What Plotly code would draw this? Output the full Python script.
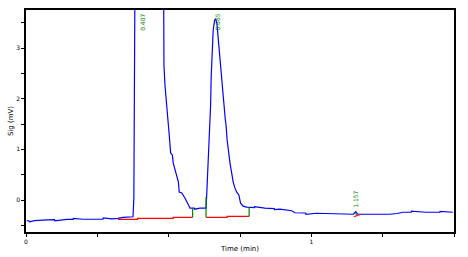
import plotly.graph_objects as go

# Signal trace (time in min, signal in mV)
sig_t = [0.002, 0.010, 0.012, 0.030, 0.060, 0.100, 0.101, 0.143, 0.165, 0.166, 0.200, 0.259,
         0.270, 0.271, 0.300, 0.322, 0.340, 0.375,
         0.378, 0.382, 0.400, 0.481, 0.481, 0.4835, 0.487, 0.4905, 0.494, 0.4975,
         0.502, 0.507, 0.513, 0.516, 0.520, 0.526, 0.530, 0.534, 0.537, 0.546, 0.557,
         0.569, 0.575, 0.590, 0.591, 0.610, 0.631, 0.633, 0.637, 0.642, 0.645, 0.647, 0.649, 0.653,
         0.656, 0.661, 0.665, 0.669, 0.672, 0.675, 0.680, 0.683, 0.688, 0.694, 0.698,
         0.701, 0.705, 0.715, 0.721, 0.726, 0.732, 0.738, 0.746, 0.752, 0.761, 0.773,
         0.800, 0.801, 0.837, 0.870, 0.871, 0.890, 0.931, 0.943, 0.980, 0.981, 1.019, 1.080,
         1.147, 1.156, 1.163, 1.220, 1.275, 1.300, 1.321, 1.350, 1.351, 1.400, 1.450, 1.451, 1.496]
sig_v = [-0.408, -0.408, -0.430, -0.405, -0.394, -0.388, -0.410, -0.381, -0.381, -0.360, -0.378,
         -0.375, -0.375, -0.350, -0.370, -0.361, -0.341, -0.329,
         0.034, 4.500, 6.000, 6.000, 3.100, 2.660, 2.270, 2.070, 1.830, 1.620,
         1.280, 0.930, 0.890, 0.730, 0.650, 0.550, 0.430, 0.360, 0.160, 0.140, 0.040,
         -0.100, -0.160, -0.160, -0.180, -0.160, -0.160, 0.060, 0.590, 1.180, 1.380, 1.870, 2.430, 2.960,
         3.350, 3.550, 3.570, 3.490, 3.290, 3.100, 2.700, 2.470, 2.230, 1.830, 1.620,
         1.480, 1.180, 0.730, 0.490, 0.360, 0.240, 0.160, 0.100, -0.060, -0.120, -0.140,
         -0.150, -0.130, -0.160, -0.170, -0.190, -0.180, -0.210, -0.250, -0.255, -0.280, -0.260, -0.270,
         -0.280, -0.230, -0.280, -0.280, -0.280, -0.265, -0.240, -0.240, -0.220, -0.240, -0.240, -0.225, -0.240]

# Baselines (red)
base1_t = [0.322, 0.391, 0.391, 0.516, 0.516, 0.584]
base1_v = [-0.380, -0.380, -0.360, -0.360, -0.340, -0.340]
base2_t = [0.631, 0.705, 0.705, 0.782]
base2_v = [-0.340, -0.340, -0.320, -0.320]
base3_t = [1.149, 1.163, 1.174]
base3_v = [-0.330, -0.300, -0.280]

# Peak drop lines (green)
drop_t = [0.584, 0.584, None, 0.631, 0.631, None, 0.782, 0.782, None, 1.157, 1.157]
drop_v = [-0.340, -0.160, None, -0.340, 0.060, None, -0.320, -0.140, None, -0.300, -0.240]

# Peak labels
peak_t = [0.406, 0.668, 1.157]
peak_lbl = ["0.407", "0.665", "1.157"]
peak_y = [3.72, 3.72, -0.20]
peak_anchor = ["top", "top", "bottom"]

x_ticks = [0, 1]
y_ticks = [0, 1, 2, 3]

fig = go.Figure()
fig.add_trace(go.Scatter(x=sig_t, y=sig_v, mode="lines",
                         line=dict(color="#0000ff", width=1.2), hoverinfo="skip"))
for bt, bv in [(base1_t, base1_v), (base2_t, base2_v), (base3_t, base3_v)]:
    fig.add_trace(go.Scatter(x=bt, y=bv, mode="lines",
                             line=dict(color="#ff0000", width=1.2), hoverinfo="skip"))
fig.add_trace(go.Scatter(x=drop_t, y=drop_v, mode="lines",
                         line=dict(color="#008000", width=1.2), hoverinfo="skip",
                         connectgaps=False))

for t, lbl, yv, anc in zip(peak_t, peak_lbl, peak_y, peak_anchor):
    fig.add_annotation(x=t, y=yv, xref="x", yref="y", text=lbl, showarrow=False,
                       textangle=-90, xanchor="center", yanchor=anc,
                       font=dict(family="DejaVu Sans", size=6, color="#008000"))

axis_common = dict(showline=True, linecolor="black", linewidth=1.5, mirror=True,
                   showgrid=False, zeroline=False, ticks="outside", ticklen=3,
                   tickcolor="black", automargin=False,
                   tickfont=dict(family="DejaVu Sans", size=6, color="black"))

fig.update_xaxes(range=[0, 1.5], tickvals=x_ticks, ticktext=[str(v) for v in x_ticks],
                 minor=dict(dtick=0.25, ticks="outside", ticklen=3, tickcolor="black"),
                 title=dict(text="Time (min)", font=dict(family="DejaVu Sans", size=7, color="black"),
                            standoff=2),
                 **axis_common)
fig.update_yaxes(range=[-0.63, 3.75], tickvals=y_ticks, ticktext=[str(v) for v in y_ticks],
                 minor=dict(dtick=0.5, ticks="outside", ticklen=3, tickcolor="black"),
                 title=dict(text="Sig (mV)", font=dict(family="DejaVu Sans", size=7, color="black"),
                            standoff=2),
                 **axis_common)

fig.update_layout(width=468, height=257, margin=dict(l=26, r=14, t=10, b=25),
                  plot_bgcolor="white", paper_bgcolor="white", showlegend=False)

fig.write_html("out.html")
